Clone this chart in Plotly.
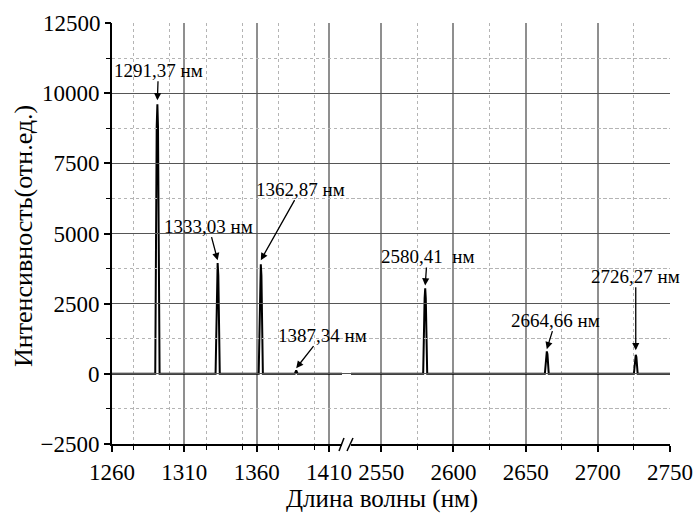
import plotly.graph_objects as go

# ---- data ----
# left segment of the broken wavelength axis (nm) and intensity (a.u.)
left_wl = [1260, 1289.9, 1290.9, 1291.37, 1291.8, 1292.9,
           1331.6, 1332.6, 1333.03, 1333.5, 1334.5,
           1361.4, 1362.4, 1362.87, 1363.3, 1364.3,
           1386.3, 1387.34, 1388.4, 1419]
left_int = [0, 0, 8800, 9600, 8800, 0,
            0, 3500, 3950, 3500, 0,
            0, 3500, 3900, 3500, 0,
            0, 120, 0, 0]

# right segment
right_wl = [2529, 2579.0, 2580.0, 2580.41, 2580.8, 2581.8,
            2663.3, 2664.2, 2664.66, 2665.1, 2666.0,
            2725.0, 2725.9, 2726.27, 2726.7, 2727.6, 2750]
right_int = [0, 0, 2700, 3050, 2700, 0,
             0, 700, 800, 700, 0,
             0, 600, 680, 600, 0, 0]

# labelled peaks
peak_wl = [1291.37, 1333.03, 1362.87, 1387.34, 2580.41, 2664.66, 2726.27]
peak_labels = ["1291,37 нм", "1333,03 нм", "1362,87 нм", "1387,34 нм",
               "2580,41\u00a0 нм", "2664,66 нм", "2726,27 нм"]
arrow_tip = [9750, 4050, 4050, 200, 3150, 880, 840]
peak_axis = ["x", "x", "x", "x", "x2", "x2", "x2"]

y_grid_ticks = [-2500, 0, 2500, 5000, 7500, 10000]
y_top_tick = [12500]

# annotation text offsets (pixels, text centre relative to arrow tip)
label_dx = [1, -9, 40, 26, 2, 9, 0]
label_dy = [-30, -34, -71, -33, -29, -29, -74]

FONT = "Liberation Serif"
XMAJ = "#8f8f8f"
YMAJ = "#555555"
MIN = "#b4b4b4"

fig = go.Figure()
# empty trace on a full-width hidden x axis: carries the horizontal grid across the break
fig.add_trace(go.Scatter(x=[], y=[], xaxis="x3", yaxis="y", showlegend=False))
fig.add_trace(go.Scatter(x=left_wl, y=left_int, mode="lines", xaxis="x", yaxis="y",
                         line=dict(color="black", width=2), showlegend=False, hoverinfo="skip"))
fig.add_trace(go.Scatter(x=right_wl, y=right_int, mode="lines", xaxis="x2", yaxis="y",
                         line=dict(color="black", width=2), showlegend=False, hoverinfo="skip"))
# empty trace for the overlay axis holding the top (12500) tick label
fig.add_trace(go.Scatter(x=[], y=[], xaxis="x", yaxis="y2", showlegend=False))

W, H = 694, 515
L, R, T, B = 112, 24, 23, 71
pw = W - L - R
ph = H - T - B
left_end = (342 - L) / pw
right_start = (351 - L) / pw

common_x = dict(
    showline=True, linecolor="black", linewidth=2,
    ticks="outside", ticklen=6, tickwidth=1.5, tickcolor="black",
    showgrid=True, gridcolor=XMAJ, gridwidth=1.6,
    zeroline=False, dtick=50, automargin=False,
    minor=dict(dtick=25, ticks="outside", ticklen=4, tickwidth=1.2, tickcolor="black",
               showgrid=True, gridcolor=MIN, griddash="dot", gridwidth=1),
    tickfont=dict(family=FONT, size=23, color="black"),
)

yfont = dict(family=FONT, size=23, color="black")

fig.update_layout(
    width=W, height=H,
    margin=dict(l=L, r=R, t=T, b=B, autoexpand=False),
    paper_bgcolor="white", plot_bgcolor="rgba(0,0,0,0)",
    xaxis=dict(domain=[0, left_end], range=[1260, 1419], anchor="y",
               tick0=1260, **common_x),
    xaxis2=dict(domain=[right_start, 1], range=[2529, 2750], anchor="y",
                tick0=2550, **common_x),
    xaxis3=dict(domain=[0, 1], range=[0, 1], anchor="y", visible=False, automargin=False),
    yaxis=dict(range=[-2500, 12500], tickmode="array", tickvals=y_grid_ticks,
               tickformat="d", anchor="x", automargin=False,
               showline=True, linecolor="black", linewidth=2,
               ticks="outside", ticklen=6, tickwidth=1.5, tickcolor="black",
               showgrid=True, gridcolor=YMAJ, gridwidth=1, zeroline=False,
               minor=dict(tickmode="linear", tick0=-1250, dtick=2500, ticks="outside",
                          ticklen=4, tickwidth=1.2, tickcolor="black",
                          showgrid=True, gridcolor=MIN, griddash="dot", gridwidth=1),
               tickfont=yfont),
    yaxis2=dict(range=[-2500, 12500], overlaying="y", anchor="x", side="left",
                tickmode="array", tickvals=y_top_tick, tickformat="d", automargin=False,
                ticks="outside", ticklen=6, tickwidth=1.5, tickcolor="black",
                showline=False, showgrid=False, zeroline=False, tickfont=yfont),
)

annotations = []
for wl, lab, tip, ax_name, dx, dy in zip(peak_wl, peak_labels, arrow_tip, peak_axis, label_dx, label_dy):
    annotations.append(dict(
        x=wl, y=tip, xref=ax_name, yref="y", text=lab, showarrow=True,
        ax=dx, ay=dy, arrowhead=2, arrowsize=1.1, arrowwidth=1.3, arrowcolor="black",
        font=dict(family=FONT, size=19, color="black"), borderpad=0, standoff=0,
    ))
# axis titles
annotations.append(dict(x=(382 - L) / pw, y=(T + ph - 499) / ph, xref="paper", yref="paper",
                        text="Длина волны (нм)", showarrow=False, xanchor="center", yanchor="middle",
                        font=dict(family=FONT, size=25, color="black")))
annotations.append(dict(x=(23 - L) / pw, y=(T + ph - 236) / ph, xref="paper", yref="paper",
                        text="Интенсивность(отн.ед.)", showarrow=False, textangle=-90,
                        xanchor="center", yanchor="middle",
                        font=dict(family=FONT, size=26, color="black")))
fig.update_layout(annotations=annotations)

# axis-break marks "//"
def px2paper(px, py):
    return (px - L) / pw, (T + ph - py) / ph

shapes = []
for (x0, y0, x1, y1) in [(339, 451, 344, 438), (347, 451, 353, 438)]:
    a0, b0 = px2paper(x0, y0)
    a1, b1 = px2paper(x1, y1)
    shapes.append(dict(type="line", xref="paper", yref="paper", x0=a0, y0=b0, x1=a1, y1=b1,
                       line=dict(color="black", width=1.5)))
fig.update_layout(shapes=shapes)

fig.write_html("out.html")
